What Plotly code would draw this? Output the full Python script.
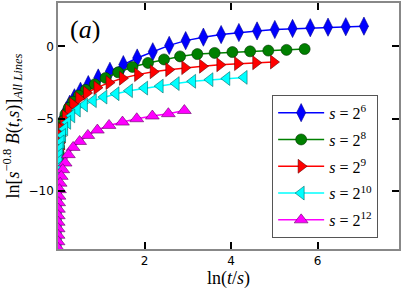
import plotly.graph_objects as go

# Data (x = ln(t/s), y = ln[s^-0.8 B(t,s)])
x_s6 = [7.07, 6.65, 6.24, 5.83, 5.42, 5.01, 4.60, 4.18, 3.77, 3.36, 2.95, 2.57, 2.19, 1.83, 1.51,
        1.20, 0.93, 0.70, 0.52, 0.38, 0.27, 0.19, 0.13, 0.09, 0.06, 0.04, 0.027, 0.018, 0.012]
y_s6 = [1.40, 1.36, 1.33, 1.29, 1.24, 1.17, 1.07, 0.96, 0.82, 0.64, 0.40, 0.07, -0.37, -0.80, -1.26,
        -1.72, -2.18, -2.64, -3.10, -3.55, -4.00, -4.45, -4.90, -5.35, -5.80, -6.25, -6.70, -7.15, -7.60]

x_s8 = [5.70, 5.28, 4.86, 4.44, 4.03, 3.62, 3.22, 2.82, 2.45, 2.08, 1.72, 1.39, 1.10, 0.85, 0.64,
        0.48, 0.35, 0.25, 0.17, 0.12, 0.08, 0.055, 0.037, 0.025, 0.017, 0.011]
y_s8 = [-0.18, -0.24, -0.29, -0.34, -0.39, -0.45, -0.53, -0.69, -0.90, -1.14, -1.42, -1.79, -2.18, -2.62, -3.00,
        -3.40, -3.82, -4.25, -4.70, -5.15, -5.60, -6.05, -6.50, -6.95, -7.40, -7.85]

x_s9 = [4.98, 4.57, 4.15, 3.74, 3.34, 2.93, 2.56, 2.20, 1.84, 1.49, 1.18, 0.90, 0.66, 0.48, 0.34,
        0.24, 0.17, 0.12, 0.082, 0.056, 0.038, 0.026, 0.018, 0.012, 0.008]
y_s9 = [-1.08, -1.13, -1.19, -1.27, -1.37, -1.47, -1.61, -1.75, -1.95, -2.20, -2.50, -2.85, -3.22, -3.60, -4.00,
        -4.42, -4.85, -5.30, -5.75, -6.20, -6.65, -7.10, -7.55, -8.00, -8.45]

x_s10 = [4.30, 3.90, 3.51, 3.11, 2.73, 2.36, 2.00, 1.65, 1.34, 1.06, 0.815, 0.61, 0.445, 0.317, 0.222,
         0.153, 0.105, 0.071, 0.048, 0.032, 0.022, 0.015, 0.010, 0.0066, 0.0044, 0.003, 0.002, 0.0013,
         0.0009, 0.0006, 0.0004, 0.00027, 0.00018, 0.00012]
y_s10 = [-2.14, -2.22, -2.30, -2.41, -2.57, -2.74, -2.88, -3.06, -3.27, -3.50, -3.75, -4.05, -4.40, -4.80, -5.25,
         -5.70, -6.15, -6.60, -7.05, -7.50, -7.95, -8.40, -8.85, -9.30, -9.75, -10.20, -10.65, -11.10,
         -11.55, -12.00, -12.45, -12.90, -13.35, -13.80]

x_s12 = [2.92, 2.55, 2.18, 1.82, 1.49, 1.18, 0.91, 0.69, 0.50, 0.35, 0.24, 0.165, 0.11, 0.075, 0.05,
         0.034, 0.023, 0.015, 0.01, 0.0068, 0.0045, 0.003, 0.002, 0.0013, 0.0009, 0.0006]
y_s12 = [-4.43, -4.65, -4.81, -5.00, -5.23, -5.46, -5.78, -6.15, -6.57, -6.98, -7.48, -8.06, -8.52, -8.98, -9.45,
         -9.90, -10.35, -10.80, -11.25, -11.70, -12.15, -12.60, -13.05, -13.50, -13.95, -14.40]

labels = ["<i>s</i> = 2<sup>6</sup>", "<i>s</i> = 2<sup>8</sup>", "<i>s</i> = 2<sup>9</sup>",
          "<i>s</i> = 2<sup>10</sup>", "<i>s</i> = 2<sup>12</sup>"]

series = [
    (x_s6, y_s6, "blue", "#00008b", "diamond-tall", 13),
    (x_s8, y_s8, "green", "#003300", "circle", 11),
    (x_s9, y_s9, "red", "#660000", "triangle-right", 12),
    (x_s10, y_s10, "cyan", "#006666", "triangle-left", 12),
    (x_s12, y_s12, "magenta", "#660066", "triangle-up", 12),
]

fig = go.Figure()
for (xs, ys, col, edge, sym, sz), lab in zip(series, labels):
    fig.add_trace(go.Scatter(
        x=xs, y=ys, mode="lines+markers", name=lab, legendgroup=lab,
        line=dict(color=col, width=1.5),
        marker=dict(symbol=sym, size=sz, color=col, line=dict(color=edge, width=0.6)),
    ))

axis_common = dict(
    showline=True, linecolor="#888888", linewidth=1.5, mirror="ticks",
    ticks="inside", ticklen=7, tickwidth=2, tickcolor="black",
    showgrid=False, zeroline=False, automargin=False,
    tickfont=dict(family="DejaVu Sans", size=12, color="black"),
)

fig.update_layout(
    width=403, height=292,
    margin=dict(l=58, r=4, t=3, b=43),
    paper_bgcolor="white", plot_bgcolor="white",
    xaxis=dict(range=[0, 7.88], tickvals=[2, 4, 6], ticktext=["2", "4", "6"],
               title=dict(text="ln(<i>t</i>/<i>s</i>)", font=dict(family="Liberation Serif", size=18, color="black"),
                          standoff=0),
               **axis_common),
    yaxis=dict(range=[-14, 3], tickvals=[0, -5, -10], ticktext=["0", "\u22125", "\u221210"],
               title=dict(text="ln[<i>s</i><sup>\u22120.8</sup> <i>B</i>(<i>t</i>,<i>s</i>)]<sub><i>All Lines</i></sub>",
                          font=dict(family="Liberation Serif", size=18, color="black"), standoff=5),
               **axis_common),
    legend=dict(x=0.628, y=0.627, xanchor="left", yanchor="top",
                bgcolor="white", bordercolor="#555555", borderwidth=1,
                font=dict(family="Liberation Serif", size=16, color="black"),
                itemwidth=46, tracegroupgap=3),
    showlegend=True,
    annotations=[dict(text="(<i>a</i>)", x=0.03, y=0.96, xref="paper", yref="paper",
                      xanchor="left", yanchor="top", showarrow=False,
                      font=dict(family="Liberation Serif", size=26, color="black"))],
)

fig.write_html("out.html", config={"displayModeBar": False},
               post_script="document.body.style.margin='0px';")
